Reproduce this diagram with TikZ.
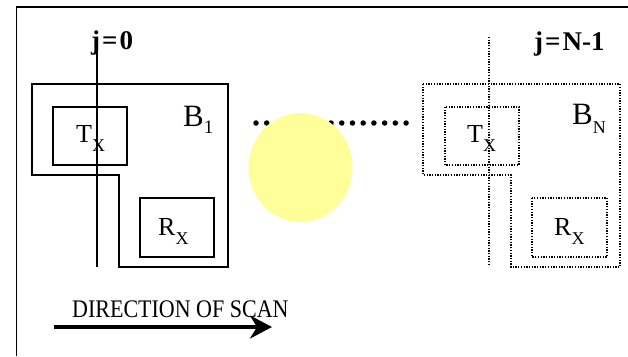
\documentclass[tikz,border=0pt]{standalone}
\usepackage{fontspec}
\setmainfont{Liberation Serif}
\usetikzlibrary{arrows.meta}

\definecolor{sunyellow}{RGB}{255,255,153}

% letter with a lowered, smaller subscript
\newcommand\subtag[5]{{\fontsize{#2}{#2}\selectfont #1}\raisebox{-#5pt}{\fontsize{#4}{#4}\selectfont #3}}

\begin{document}
\begin{tikzpicture}[x=1pt,y=-1pt,
  solidline/.style={line width=1.3pt},
  dotline/.style={line width=1.3pt, dash pattern=on 1.3pt off 1.4pt},
  lbl/.style={inner sep=0pt, anchor=base west},
  jlbl/.style={inner sep=0pt, anchor=base west, font=\fontsize{27}{27}\selectfont\bfseries},
  dotmark/.style={fill=black, circle, inner sep=0pt, minimum size=5.5pt}
]
\useasboundingbox (0,0) rectangle (628,356);

% frame (left and top edges)
\coordinate (fbl) at (16.5,356);
\coordinate (ftl) at (16.5,7);
\coordinate (ftr) at (628,7);
\draw[line width=1.6pt] (fbl) -- (ftl) -- (ftr);

% ---- first block B_1 ----
\draw[solidline] (32,84) -- (228,84) -- (228,267) -- (119,267) -- (119,175) -- (32,175) -- cycle;
\draw[solidline] (53,107) rectangle (127,165);
\draw[solidline] (140,198) rectangle (214,257);
\coordinate (jzt) at (97,50);
\coordinate (jzb) at (97,267);
\draw[solidline] (jzt) -- (jzb);
\node[jlbl] (jzero) at (91,49) {j\kern2pt=\kern2pt0};
\node[lbl] (tx1) at (76,142) {\subtag{T}{26}{X}{18}{9}};
\node[lbl] (rx1) at (158,235) {\subtag{R}{26}{X}{18}{9}};
\node[lbl] (b1) at (183,126) {\subtag{B}{31}{1}{19}{7}};

% ---- last block B_N ----
\draw[dotline] (423,84) -- (620,84) -- (620,267) -- (511,267) -- (511,175) -- (423,175) -- cycle;
\draw[dotline] (445,107) rectangle (519,165);
\draw[dotline] (532,198) rectangle (607,257);
\coordinate (jnt) at (489,37);
\coordinate (jnb) at (489,265);
\draw[dotline] (jnt) -- (jnb);
\node[jlbl] (jlast) at (534,50) {j\kern2pt=\kern2pt N-1};
\node[lbl] (txn) at (467,142) {\subtag{T}{26}{X}{18}{9}};
\node[lbl] (rxn) at (554,235) {\subtag{R}{26}{X}{18}{9}};
\node[lbl] (bn) at (572,124) {\subtag{B}{31}{N}{18}{9}};

% ---- row of dots between the blocks ----
\foreach \i in {0,...,14} {
  \node[dotmark] (dot\i) at ({256+10.72*\i},123) {};
}

% yellow disc
\fill[sunyellow] (300.5,167.5) ellipse [x radius=52, y radius=54.5];

% ---- scan direction ----
\node[lbl] (scantext) at (72,317) {\scalebox{1}[1.15]{\fontsize{22}{22}\selectfont DIRECTION OF SCAN}};
\coordinate (scanstart) at (54,327);
\coordinate (scanend) at (272,327);
\draw[line width=3.5pt, -{Stealth[length=22pt,width=23pt,inset=7pt]}] (scanstart) -- (scanend);
\end{tikzpicture}
\end{document}
